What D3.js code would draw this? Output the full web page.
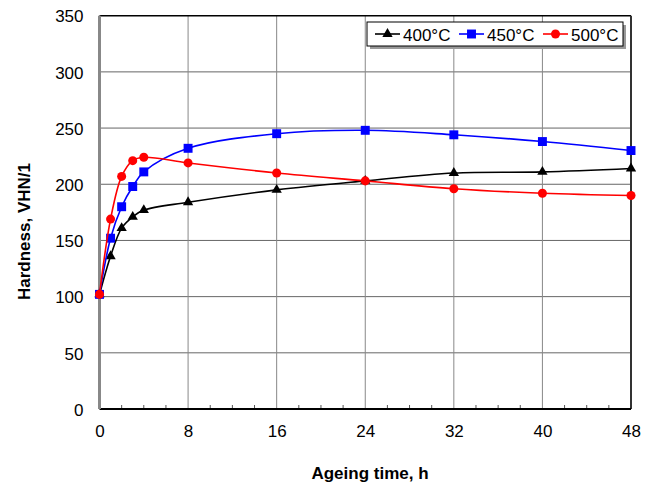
<!DOCTYPE html>
<html><head><meta charset="utf-8">
<script src="https://cdn.jsdelivr.net/npm/d3@7"></script>
<style>body{margin:0;background:#fff}svg{display:block;font-family:"Liberation Sans",Arial,sans-serif}</style>
</head><body><svg id="c" width="652" height="483"></svg>
<script>
const hours = [0, 1, 2, 3, 4, 8, 16, 24, 32, 40, 48];
const s400 = [102, 136, 161, 171, 177, 184, 195, 203, 210, 211, 214];
const s450 = [102, 152, 180, 198, 211, 232, 245, 248, 244, 238, 230];
const s500 = [102, 169, 207, 221, 224, 219, 210, 203, 196, 192, 190];
const seriesNames = ["400°C", "450°C", "500°C"];
const xTicks = [0, 8, 16, 24, 32, 40, 48];
const yTicks = [0, 50, 100, 150, 200, 250, 300, 350];

const svg = d3.select("#c");
const L = 99.5, R = 631, T = 15.7, B = 409;
const FS = 17;
const x = d3.scaleLinear().domain([0, 48]).range([L, R]);
const y = d3.scaleLinear().domain([0, 350]).range([B, T]);

// grid
svg.append("g").selectAll("line").data(yTicks.slice(1, -1)).join("line")
  .attr("x1", L).attr("x2", R).attr("y1", d => y(d)).attr("y2", d => y(d))
  .attr("stroke", "#666").attr("stroke-width", 1);
svg.append("g").selectAll("line").data(xTicks.slice(1, -1)).join("line")
  .attr("y1", T).attr("y2", B).attr("x1", d => x(d)).attr("x2", d => x(d))
  .attr("stroke", "#888").attr("stroke-width", 1);

// minor ticks
svg.append("g").selectAll("line").data(d3.range(2, 48, 2).filter(v => v % 8)).join("line")
  .attr("x1", d => x(d)).attr("x2", d => x(d)).attr("y1", B).attr("y2", B - 4)
  .attr("stroke", "#555");

// frame
svg.append("line").attr("x1", L).attr("x2", R).attr("y1", T).attr("y2", T).attr("stroke", "#000").attr("stroke-width", 1.5);
svg.append("line").attr("x1", R).attr("x2", R).attr("y1", T).attr("y2", B).attr("stroke", "#333").attr("stroke-width", 2);
svg.append("line").attr("x1", L).attr("x2", R).attr("y1", B).attr("y2", B).attr("stroke", "#000").attr("stroke-width", 2);
svg.append("line").attr("x1", L).attr("x2", L).attr("y1", T).attr("y2", B).attr("stroke", "#888").attr("stroke-width", 3);

// axes labels
const xAxis = d3.axisBottom(x).tickValues(xTicks).tickSize(0).tickPadding(15.5);
const gx = svg.append("g").attr("transform", `translate(0,${B})`).call(xAxis);
gx.select(".domain").remove();
gx.selectAll("text").attr("font-size", FS).attr("fill", "#000").attr("font-family", "Liberation Sans, Arial");
const yAxis = d3.axisLeft(y).tickValues(yTicks).tickSize(0).tickPadding(16);
const gy = svg.append("g").attr("transform", `translate(${L},0)`).call(yAxis);
gy.select(".domain").remove();
gy.selectAll("text").attr("font-size", FS).attr("dy", "0.37em").attr("fill", "#000").attr("font-family", "Liberation Sans, Arial");

svg.append("text").attr("x", 370).attr("y", 479).attr("text-anchor", "middle")
  .attr("font-size", FS).attr("font-weight", "bold").text("Ageing time, h");
svg.append("text").attr("transform", "translate(29.5,231.5) rotate(-90)").attr("text-anchor", "middle")
  .attr("font-size", FS).attr("font-weight", "bold").text("Hardness, VHN/1");

// series
const series = [
  {name: seriesNames[0], vals: s400, color: "#000", shape: d3.symbolTriangle, size: 46},
  {name: seriesNames[1], vals: s450, color: "#0000ff", shape: d3.symbolSquare, size: 80},
  {name: seriesNames[2], vals: s500, color: "#ff0000", shape: d3.symbolCircle, size: 64}
];
const line = d3.line().x(d => x(d[0])).y(d => y(d[1])).curve(d3.curveCatmullRom.alpha(0.5));
series.forEach(s => {
  const pts = hours.map((h, i) => [h, s.vals[i]]);
  svg.append("path").attr("d", line(pts)).attr("fill", "none").attr("stroke", s.color).attr("stroke-width", 1.6);
  svg.append("g").selectAll("path").data(pts).join("path")
    .attr("transform", d => `translate(${x(d[0])},${y(d[1])})`)
    .attr("d", d3.symbol().type(s.shape).size(s.size)).attr("fill", s.color);
});

// legend
const lg = svg.append("g");
lg.append("rect").attr("x", 370).attr("y", 25).attr("width", 256).attr("height", 24).attr("fill", "#999");
lg.append("rect").attr("x", 367).attr("y", 22).attr("width", 256).attr("height", 24).attr("fill", "#fff").attr("stroke", "#000").attr("stroke-width", 1);
const lx = [375, 459, 543];
series.forEach((s, i) => {
  lg.append("line").attr("x1", lx[i]).attr("x2", lx[i] + 25).attr("y1", 34).attr("y2", 34).attr("stroke", s.color).attr("stroke-width", 1.6);
  lg.append("path").attr("transform", `translate(${lx[i] + 12.5},34)`).attr("d", d3.symbol().type(s.shape).size(s.size)).attr("fill", s.color);
  lg.append("text").attr("x", lx[i] + 28).attr("y", 40.5).attr("font-size", FS).text(s.name);
});
</script></body></html>
